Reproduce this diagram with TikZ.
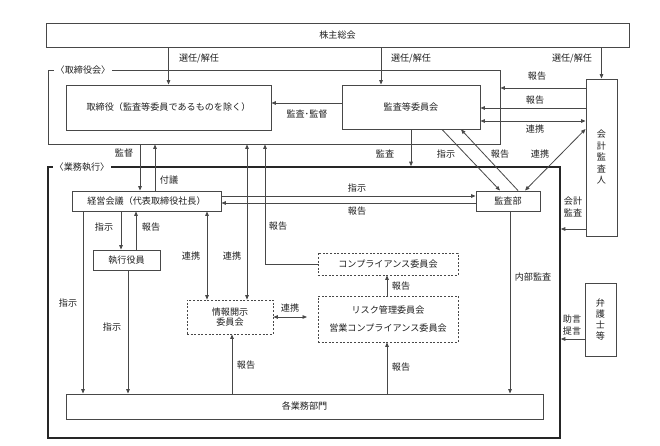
\documentclass[tikz,border=0pt]{standalone}
\usepackage{fontspec}
\setmainfont{Noto Sans CJK JP}
\usetikzlibrary{arrows.meta,calc}
\definecolor{ln}{HTML}{484848}
\definecolor{tx}{HTML}{202020}
\begin{document}
\begin{tikzpicture}[x=1pt,y=-1pt,
  font=\fontsize{9.1}{10}\selectfont, text=tx,
  box/.style={draw=ln,line width=0.9pt,rectangle,inner sep=0pt,fill=white},
  dbox/.style={draw=ln,line width=0.8pt,dash pattern=on 2pt off 1.6pt,rectangle,inner sep=0pt,fill=white},
  frm/.style={draw=ln,line width=0.9pt,rectangle,inner sep=0pt},
  conn/.style={draw=ln,line width=0.8pt,-{Triangle[length=4.5pt,width=3.6pt]}},
  both/.style={draw=ln,line width=0.8pt,{Triangle[length=4.5pt,width=3.6pt]}-{Triangle[length=4.5pt,width=3.6pt]}},
  lab/.style={inner sep=0.5pt,text=tx},
  vlab/.style={inner sep=0pt,align=center,text=tx,font=\fontsize{9.1}{11.5}\selectfont}]
\useasboundingbox[fill=white] (0,0) rectangle (660,446);

% frames
\node[frm,minimum width=452,minimum height=74] (torikai) at (274,107) {};
\node[frm,line width=1.6pt,draw=black!85,minimum width=512,minimum height=271] (gyomu) at (304,302.5) {};
\node[lab,fill=white,inner xsep=2pt] (torikailab) at (83,70) {〈取締役会〉};
\node[lab,fill=white,inner xsep=2pt] (gyomulab) at (82,167) {〈業務執行〉};

% boxes
\node[box,minimum width=583,minimum height=24] (kabu) at (337.5,35) {株主総会};
\node[box,minimum width=205,minimum height=45] (tori) at (168.5,107.5) {取締役（監査等委員であるものを除く）};
\node[box,minimum width=138,minimum height=44] (kansa) at (411,107) {監査等委員会};
\node[box,minimum width=31,minimum height=157] (kaikei) at (601.5,157.5) {};
\node[vlab] (kaikeit) at (kaikei.center) {会\\計\\監\\査\\人};
\node[box,minimum width=149,minimum height=20] (keiei) at (146.5,201) {経営会議（代表取締役社長）};
\node[box,minimum width=64,minimum height=20] (kansabu) at (508,201) {監査部};
\node[box,minimum width=67,minimum height=20] (shikkou) at (126.5,260) {執行役員};
\node[dbox,minimum width=86,minimum height=34,align=center] (joho) at (230,317) {情報開示\\委員会};
\node[dbox,minimum width=140,minimum height=22] (comp) at (388,264) {コンプライアンス委員会};
\node[dbox,minimum width=140,minimum height=46,align=center] (risk) at (388,319) {リスク管理委員会\\[8pt]営業コンプライアンス委員会};
\node[box,minimum width=31,minimum height=73] (bengo) at (600.5,319.5) {};
\node[vlab,font=\fontsize{9.1}{11}\selectfont] (bengot) at (bengo.center) {弁\\護\\士\\等};
\node[box,minimum width=477,minimum height=25] (kaku) at (304.5,406.5) {各業務部門};

% helper coordinates
\coordinate (x381) at (381,0);
\coordinate (x140) at (140,0);
\coordinate (x155) at (155,0);
\coordinate (x207) at (207,0);
\coordinate (x247) at (247,0);
\coordinate (x265) at (265,0);
\coordinate (x510) at (510,0);
\coordinate (x83) at (83,0);
\coordinate (x128) at (128,0);
\coordinate (x121) at (121,0);
\coordinate (x136) at (136,0);
\coordinate (x232) at (232,0);
\coordinate (x387) at (387,0);
\coordinate (y88) at (0,88);
\coordinate (y103) at (0,103);
\coordinate (y108) at (0,108);
\coordinate (y121) at (0,121);
\coordinate (y129) at (0,129);
\coordinate (y196) at (0,196);
\coordinate (y203) at (0,203);
\coordinate (y229) at (0,229);
\coordinate (y317) at (0,317);
\coordinate (y339) at (0,339);
\coordinate (jrend) at (307,317);

% connectors
\draw[conn] (tori.north |- kabu.south) -- (tori.north);
\draw[conn] (x381 |- kabu.south) -- (x381 |- kansa.north);
\draw[conn] (kaikei.north |- kabu.south) -- (kaikei.north);
\draw[conn] (y88 -| kaikei.west) -- (y88 -| torikai.east);
\draw[conn] (y108 -| kaikei.west) -- (y108 -| kansa.east);
\draw[both] (y121 -| kansa.east) -- (y121 -| kaikei.west);
\draw[conn] (y103 -| kansa.west) -- (y103 -| tori.east);
\draw[conn] (x140 |- torikai.south) -- (x140 |- keiei.north);
\draw[conn] (x155 |- keiei.north) -- (x155 |- torikai.south);
\draw[both] (x207 |- keiei.south) -- (x207 |- joho.north);
\draw[both] (x247 |- torikai.south) -- (x247 |- joho.north);
\draw[conn] (comp.west) -| (x265 |- torikai.south);
\draw[conn] (kansa.south) -- (kansa.south |- gyomu.north);
\draw[conn] ([xshift=31]kansa.south) -- ([xshift=-8]kansabu.north);
\draw[conn] ([xshift=10]kansabu.north) -- ([xshift=50]kansa.south);
\draw[both] ([xshift=17]kansabu.north) -- (y129 -| kaikei.west);
\draw[conn] (y196 -| keiei.east) -- (y196 -| kansabu.west);
\draw[conn] (y203 -| kansabu.west) -- (y203 -| keiei.east);
\draw[conn] (y229 -| kaikei.west) -- (y229 -| gyomu.east);
\draw[conn] (x510 |- kansabu.south) -- (x510 |- kaku.north);
\draw[conn] (y339 -| bengo.west) -- (y339 -| gyomu.east);
\draw[conn] (x83 |- keiei.south) -- (x83 |- kaku.north);
\draw[conn] (x128 |- shikkou.south) -- (x128 |- kaku.north);
\draw[conn] (x121 |- keiei.south) -- (x121 |- shikkou.north);
\draw[conn] (x136 |- shikkou.north) -- (x136 |- keiei.south);
\draw[both] (y317 -| joho.east) -- (jrend);
\draw[conn] (x232 |- kaku.north) -- (x232 |- joho.south);
\draw[conn] (x387 |- risk.north) -- (x387 |- comp.south);
\draw[conn] (x387 |- kaku.north) -- (x387 |- risk.south);

% labels
\node[lab] at (199,58) {選任/解任};
\node[lab] at (411,58) {選任/解任};
\node[lab] at (572,58) {選任/解任};
\node[lab] at (537,76) {報告};
\node[lab] at (535,100) {報告};
\node[lab] at (535,129) {連携};
\node[lab] at (307,114) {監査･監督};
\node[lab] at (124,153) {監督};
\node[lab] at (169,180) {付議};
\node[lab] at (104,227) {指示};
\node[lab] at (151,227) {報告};
\node[lab] at (191,256) {連携};
\node[lab] at (232,256) {連携};
\node[lab] at (278,226) {報告};
\node[lab] at (385,154) {監査};
\node[lab] at (446,154) {指示};
\node[lab] at (500,154) {報告};
\node[lab] at (540,154) {連携};
\node[lab] at (357,188) {指示};
\node[lab] at (357,211) {報告};
\node[vlab] at (573,207) {会計\\監査};
\node[lab] at (533,277) {内部監査};
\node[vlab] at (572,325) {助言\\提言};
\node[lab] at (68,303) {指示};
\node[lab] at (112,327) {指示};
\node[lab] at (290,308) {連携};
\node[lab] at (246,365) {報告};
\node[lab] at (401,286) {報告};
\node[lab] at (401,367) {報告};
\end{tikzpicture}
\end{document}
